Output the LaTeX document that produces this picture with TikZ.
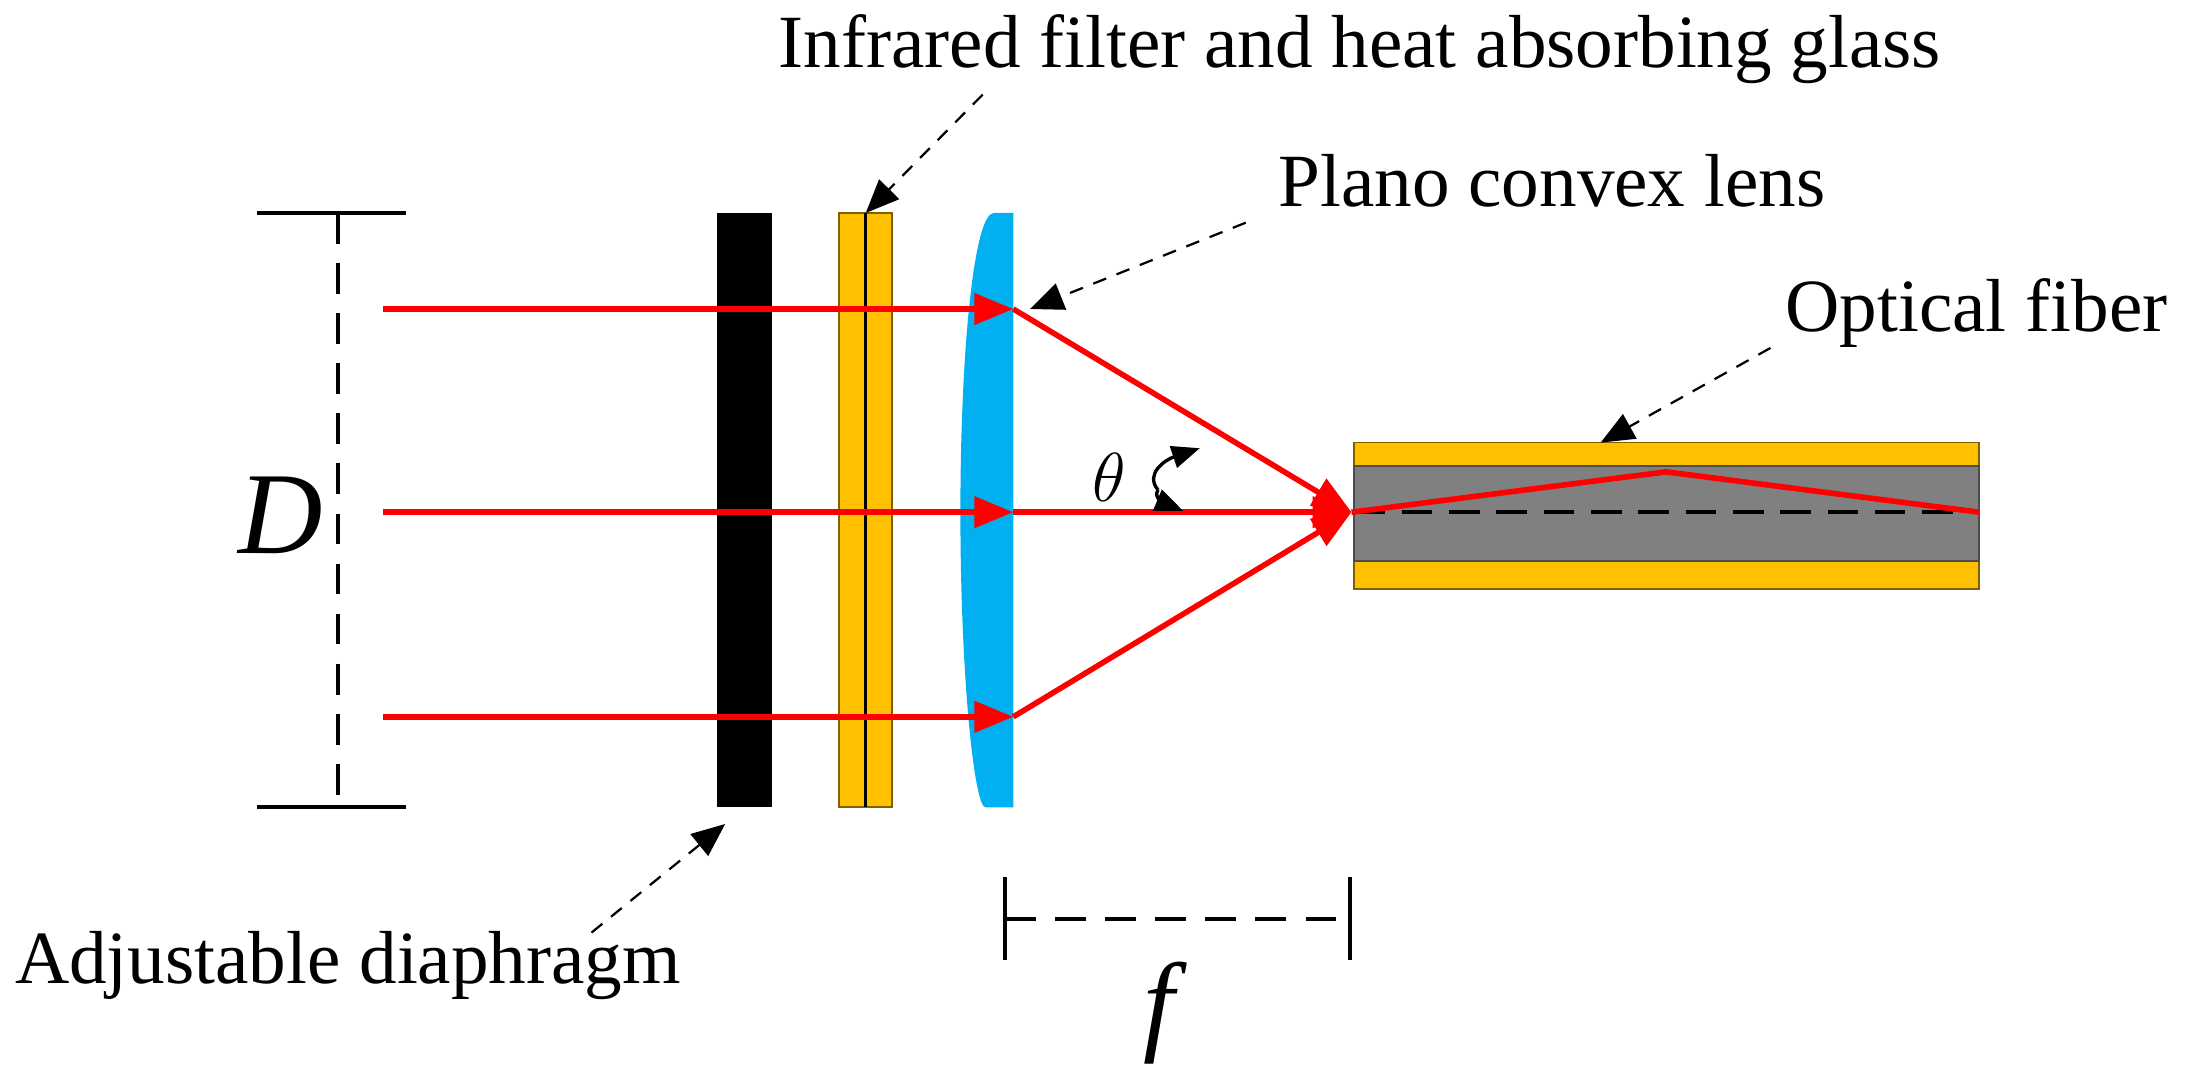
\documentclass[tikz,border=0pt]{standalone}
\usepackage{fontspec}
\setmainfont{Liberation Serif}
\usetikzlibrary{arrows.meta}
\definecolor{amber}{HTML}{FFC000}
\definecolor{lensblue}{HTML}{00B0F0}
\definecolor{fibergray}{HTML}{808080}
\begin{document}
\begin{tikzpicture}[x=0.5pt,y=-0.5pt,
  ray/.style={red,line width=2pt},
  rtip/.style={-{Triangle[length=14pt,width=11pt]}},
  ptr/.style={black,line width=0.8pt,dash pattern=on 5pt off 4pt,-{Triangle[length=12pt,width=10pt]}},
  lbl/.style={font=\fontsize{27}{29}\selectfont,inner sep=0pt},
  bar/.style={line width=1.5pt},
  dsh/.style={line width=1.5pt,dash pattern=on 11pt off 7pt}]
\useasboundingbox (0,0) rectangle (1572,777);
% D bracket
\coordinate (dt) at (243,153); \coordinate (db) at (243,580);
\draw[bar] (185,153) -- (292,153);
\draw[bar] (185,580) -- (292,580);
\draw[dsh] (dt) -- (db);
\node[font=\fontsize{42}{46}\selectfont\itshape] (D) at (202,370) {D};
% diaphragm
\fill[black] (515,153) rectangle (555,580);
% filter
\draw[amber!50!black,fill=amber,line width=0.6pt] (603,153) rectangle (641,580);
\draw[line width=1pt] (622,153) -- (622,580);
\coordinate (filt) at (622,153);
% lens
\fill[lensblue] (728,153) -- (714,153) .. controls (700,153) and (690,250) .. (690,368) .. controls (690,486) and (700,580) .. (708,580) -- (728,580) -- cycle;
% rays in
\coordinate (a1) at (275,222); \coordinate (l1) at (728,222);
\coordinate (a2) at (275,368); \coordinate (l2) at (728,368);
\coordinate (a3) at (275,515); \coordinate (l3) at (728,515);
\coordinate (foc) at (971,368);
\foreach \a/\l in {a1/l1,a2/l2,a3/l3}{
  \draw[ray,rtip] (\a) -- (\l);
}
\draw[ray,rtip] (l1) -- (foc);
\draw[ray,rtip] (l3) -- (foc);
\draw[ray,rtip] (l2) -- (foc);
% fiber
\fill[amber] (973,318) rectangle (1422,423);
\draw[amber!50!black,line width=0.6pt] (973,318) rectangle (1422,423);
\draw[fill=fibergray,line width=0.6pt,draw=black!70] (973,335) rectangle (1422,403);
\coordinate (fib) at (1150,318);
\draw[black,line width=1.5pt,dash pattern=on 11pt off 6pt] (973,368) -- (1422,368);
\coordinate (fm) at (1197,339); \coordinate (fe) at (1422,368);
\draw[ray] (foc) -- (fm) -- (fe);
% theta
\node[font=\fontsize{36}{38}\selectfont\itshape] (th) at (797,343) {$\theta$};
\draw[line width=1.2pt,-{Triangle[length=10pt,width=8pt]}] (832,352) .. controls (822,340) and (838,330) .. (862,322);
\draw[line width=1.2pt,-{Triangle[length=10pt,width=8pt]}] (832,352) .. controls (828,358) and (838,362) .. (850,367);
% f bracket
\coordinate (f1) at (722,660); \coordinate (f2) at (970,660);
\draw[bar] (722,630) -- (722,690);
\draw[bar] (970,630) -- (970,690);
\draw[dsh] (f1) -- (f2);
\node[font=\fontsize{40}{44}\selectfont\itshape] (f) at (833,728) {f};
% labels
\node[lbl] (Lfilt) at (977,35) {Infrared filter and heat absorbing glass};
\node[lbl] (Llens) at (1115,130) {Plano convex lens};
\node[lbl] (Lfib) at (1420,225) {Optical fiber};
\node[lbl] (Ldia) at (250,694) {Adjustable diaphragm};
\coordinate (p1) at (706,68); \coordinate (p2) at (895,160);
\coordinate (p3) at (1272,250); \coordinate (p4) at (425,670);
\draw[ptr] (p1) -- (filt);
\draw[ptr] (p2) -- (740,222);
\draw[ptr] (p3) -- (fib);
\draw[ptr] (p4) -- (521,592);
\end{tikzpicture}
\end{document}
